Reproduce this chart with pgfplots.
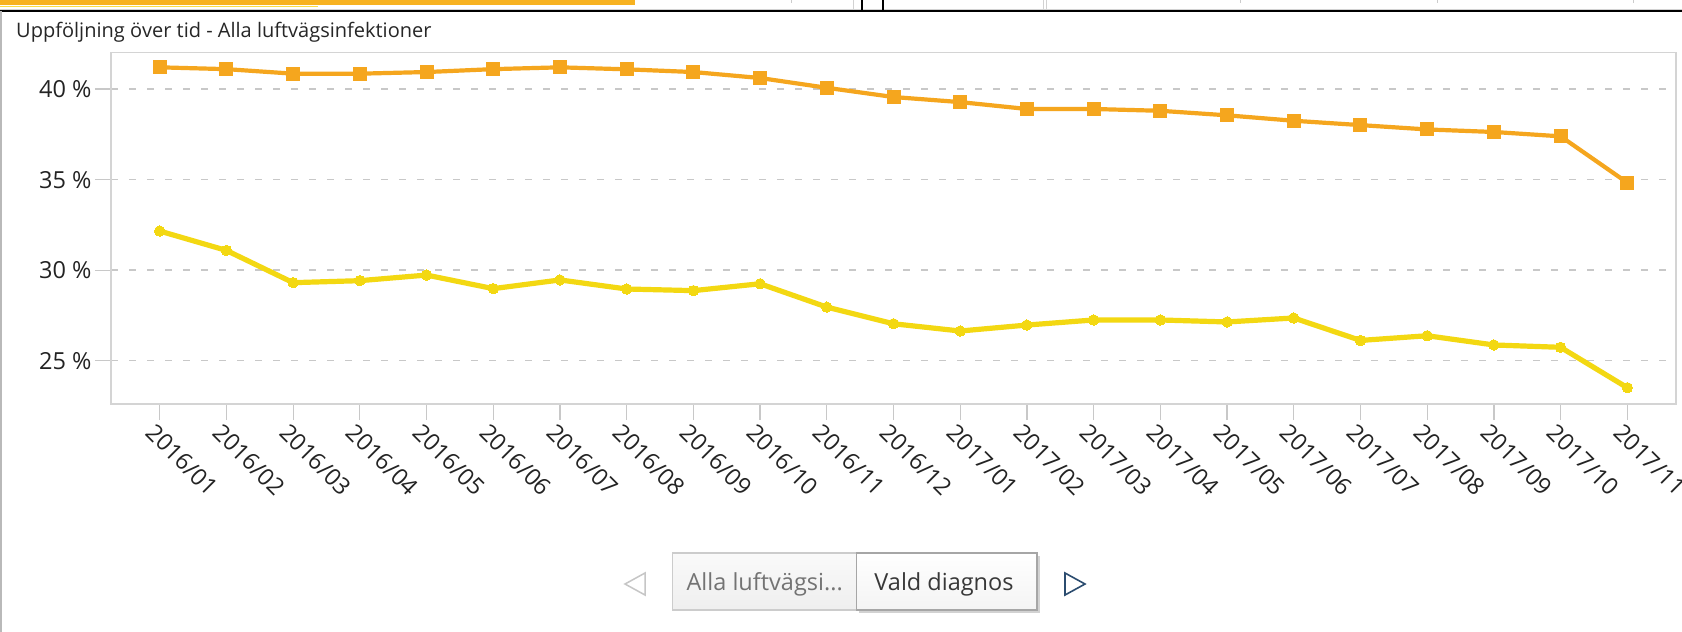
\documentclass[border=0pt]{standalone}
\usepackage{fontspec}
\setmainfont{Open Sans}
\usepackage{pgfplots}
\usepackage{pgfplotstable}
\pgfplotsset{compat=1.18}

\definecolor{seriesA}{RGB}{245,166,30}
\definecolor{seriesB}{RGB}{243,216,18}
\definecolor{barorange}{RGB}{247,178,33}
\definecolor{baryellow}{RGB}{250,222,70}
\definecolor{gridgray}{RGB}{200,200,200}
\definecolor{framegray}{RGB}{212,212,212}
\definecolor{ticktext}{RGB}{35,35,35}
\definecolor{navblue}{RGB}{43,76,111}

% month index, share with any respiratory infection diagnosis, share for the selected diagnosis
\pgfplotstableread{
idx  alla   vald
0    41.20  32.16
1    41.10  31.09
2    40.85  29.31
3    40.85  29.42
4    40.94  29.73
5    41.10  28.98
6    41.20  29.46
7    41.09  28.96
8    40.94  28.87
9    40.61  29.25
10   40.07  27.96
11   39.56  27.04
12   39.28  26.64
13   38.90  26.97
14   38.90  27.25
15   38.80  27.25
16   38.55  27.14
17   38.25  27.36
18   38.01  26.12
19   37.77  26.38
20   37.63  25.87
21   37.39  25.74
22   34.83  23.51
}\trenddata

\begin{document}
\begin{tikzpicture}[x=1pt,y=1pt]
\path[use as bounding box] (0,0) rectangle (1682,-632);
\fill[white] (0,0) rectangle (1682,-632);

% header strip left over from the panel above
\fill[barorange] (0,0) rectangle (635,-5.2);
\fill[baryellow] (0,-5.7) rectangle (318,-7.4);
\draw[gray!35, line width=0.8pt] (0,-9.2) -- (1682,-9.2);
\fill[black] (0,-10.2) rectangle (1682,-11.8);
\draw[gray!35, line width=1pt] (853,0) -- (853,-10);
\draw[black, line width=1.3pt] (862,0) -- (862,-10.5);
\draw[black, line width=1.3pt] (883,0) -- (883,-10.5);
\draw[gray!35, line width=1pt] (1043,0) -- (1043,-10);
\draw[gray!35, line width=1pt] (1046,0) -- (1046,-10);
\foreach \xx in {791,1240,1437,1633} \draw[gray!40, line width=1pt] (\xx,0) -- (\xx,-3);

% panel border
\draw[gray!55, line width=1.5pt] (0.75,-11) -- (0.75,-632);

% title
\node[anchor=base west, inner sep=0pt, font=\fontsize{20}{22}\selectfont, text=black!85] at (16,-37) {Uppföljning över tid - Alla luftvägsinfektioner};

\begin{axis}[
  at={(111pt,-52.3pt)}, anchor=north west,
  width=1565pt, height=351.7pt, scale only axis,
  xmin=-0.73, xmax=22.73, ymin=22.61, ymax=42.03,
  clip=false,
  axis line style={framegray, line width=1.6pt},
  tick pos=left, tick align=outside, major tick length=16pt,
  tick style={gridgray, line width=1.2pt},
  xtick={0,...,22},
  xticklabels={2016/01,2016/02,2016/03,2016/04,2016/05,2016/06,2016/07,2016/08,2016/09,2016/10,2016/11,2016/12,2017/01,2017/02,2017/03,2017/04,2017/05,2017/06,2017/07,2017/08,2017/09,2017/10,2017/11},
  ytick={25,30,35,40},
  yticklabels={25 \%,30 \%,35 \%,40 \%},
  ymajorgrids,
  major grid style={gridgray, line width=1.5pt, dash pattern=on 7pt off 11pt},
  tick label style={font=\fontsize{23.5}{24}\selectfont, text=ticktext},
  xticklabel style={rotate=-45, anchor=north west, xshift=-4pt},
]
\addplot[seriesA, line width=4.2pt, mark=square*, mark size=6.5pt,
  mark options={solid, fill=seriesA, draw=seriesA, line width=0pt}]
  table[x=idx, y=alla] {\trenddata};
\addplot[seriesB, line width=5.2pt, mark=*, mark size=5.2pt,
  mark options={solid, fill=seriesB, draw=seriesB, line width=0pt}]
  table[x=idx, y=vald] {\trenddata};
\end{axis}

% series switcher below the chart
\draw[gray!45, line width=1.5pt] (645,-573) -- (625,-584) -- (645,-595) -- cycle;
\shade[top color=gray!4, bottom color=gray!13] (672.7,-553) rectangle (856.7,-610);
\draw[gray!40, line width=1.2pt] (672.7,-553) rectangle (856.7,-610);
\fill[gray!35] (859,-556) rectangle (1039.5,-612.5);
\shade[top color=white, bottom color=gray!9] (856.7,-553) rectangle (1037,-610);
\draw[gray!70, line width=1.3pt] (856.7,-553) rectangle (1037,-610);
\node[font=\fontsize{23.5}{25}\selectfont, text=black!55, inner sep=0pt, anchor=base] at (764.7,-590) {Alla luftvägsi...};
\node[font=\fontsize{23.5}{25}\selectfont, text=black!78, inner sep=0pt, anchor=base] at (944,-590) {Vald diagnos};
\draw[navblue, line width=1.6pt] (1065,-573) -- (1085,-584) -- (1065,-595) -- cycle;
\end{tikzpicture}
\end{document}
